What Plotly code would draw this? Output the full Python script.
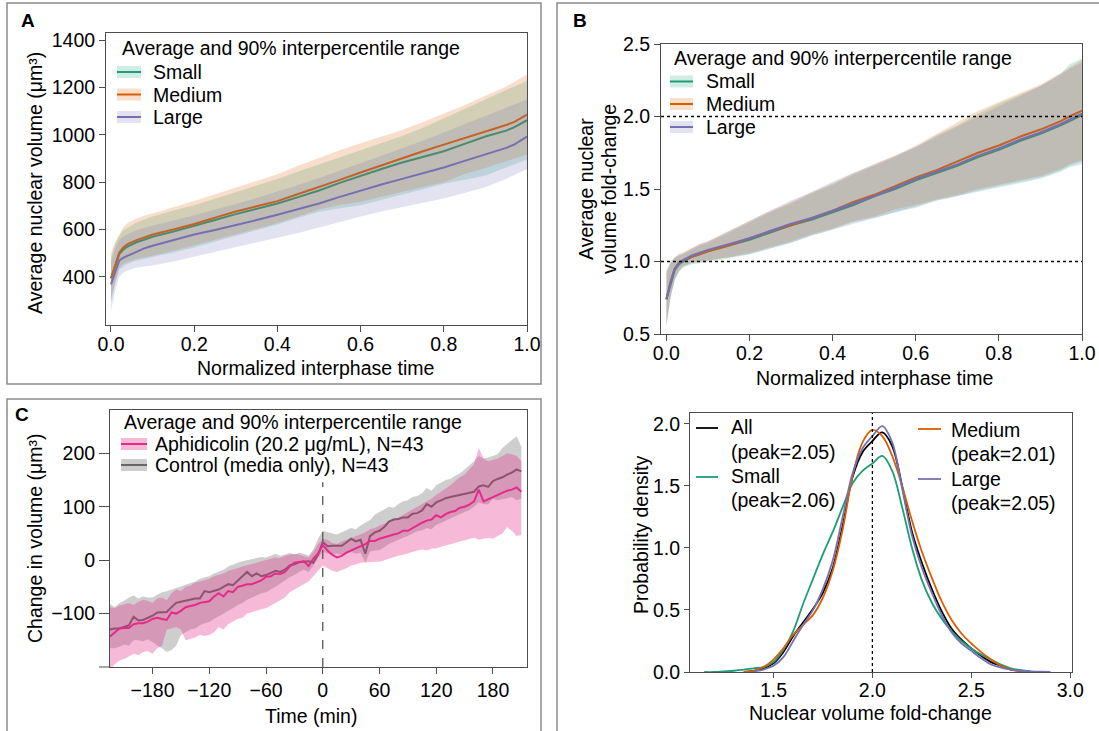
import plotly.graph_objects as go

W, H = 1099, 731
FONT = "Liberation Sans, Arial, sans-serif"
FS = 19.5
SP = "#4d4d4d"


def PX(x):
    return x / W


def PY(y):
    return 1 - y / H


C_SMALL = "#1b9e77"
C_MED = "#d95f02"
C_LARGE = "#7570b3"
C_APH = "#e7298a"
C_CTRL = "#666666"

# ---------------- Panel A / B data (normalized interphase time) ----------------
t_norm = [0.00, 0.01, 0.02, 0.03, 0.04, 0.06, 0.08, 0.10, 0.15, 0.20, 0.25, 0.30, 0.35, 0.40,
          0.45, 0.50, 0.55, 0.60, 0.65, 0.70, 0.75, 0.80, 0.85, 0.90, 0.95, 0.97, 1.00]

vol_small = [393, 445, 496, 516, 528, 545, 558, 569, 591, 614, 640, 665, 687, 710,
             737, 765, 797, 828, 856, 883, 907, 931, 962, 993, 1018, 1033, 1062]
vol_small_lo = [290, 370, 430, 445, 455, 468, 476, 483, 503, 524, 548, 572, 597, 621,
                650, 675, 690, 703, 725, 748, 770, 793, 810, 828, 860, 875, 896]
vol_small_hi = [483, 540, 575, 598, 607, 628, 642, 655, 680, 703, 730, 758, 785, 814,
                845, 875, 905, 938, 968, 995, 1030, 1069, 1110, 1150, 1190, 1205, 1228]

vol_medium = [393, 450, 503, 525, 538, 554, 567, 579, 600, 623, 650, 676, 698, 720,
              750, 779, 810, 841, 872, 903, 931, 959, 986, 1014, 1042, 1055, 1086]
vol_medium_lo = [310, 380, 440, 455, 462, 475, 482, 489, 510, 531, 555, 580, 603, 627,
                 655, 685, 705, 717, 740, 760, 780, 800, 835, 860, 890, 900, 917]
vol_medium_hi = [500, 545, 579, 610, 627, 645, 658, 669, 694, 720, 748, 779, 805, 834,
                 870, 903, 935, 965, 992, 1021, 1055, 1090, 1125, 1166, 1205, 1225, 1255]

vol_large = [368, 420, 469, 481, 489, 507, 520, 531, 555, 579, 598, 618, 640, 662,
             686, 710, 738, 765, 790, 814, 838, 862, 890, 917, 945, 960, 993]
vol_large_lo = [255, 340, 400, 418, 427, 438, 443, 448, 465, 483, 503, 524, 545, 565,
                585, 607, 632, 655, 676, 696, 713, 731, 755, 779, 815, 830, 855]
vol_large_hi = [462, 520, 555, 570, 580, 596, 607, 615, 638, 660, 683, 708, 733, 760,
                788, 818, 848, 880, 912, 943, 975, 1010, 1045, 1080, 1115, 1130, 1150]

fc_small = [0.74, 0.85, 0.94, 0.98, 1.00, 1.03, 1.05, 1.07, 1.11, 1.15, 1.20, 1.25, 1.29, 1.34,
            1.39, 1.45, 1.50, 1.56, 1.61, 1.66, 1.72, 1.77, 1.83, 1.88, 1.94, 1.97, 2.01]
fc_small_lo = [0.56, 0.75, 0.87, 0.93, 0.96, 0.98, 0.99, 1.00, 1.02, 1.05, 1.09, 1.13, 1.18, 1.22,
               1.27, 1.30, 1.34, 1.37, 1.42, 1.45, 1.48, 1.51, 1.54, 1.57, 1.62, 1.65, 1.67]
fc_small_hi = [0.93, 0.99, 1.02, 1.04, 1.05, 1.08, 1.11, 1.13, 1.20, 1.27, 1.34, 1.40, 1.47, 1.53,
               1.60, 1.66, 1.72, 1.79, 1.87, 1.94, 2.02, 2.09, 2.15, 2.21, 2.30, 2.36, 2.40]

fc_medium = [0.74, 0.86, 0.95, 0.99, 1.01, 1.03, 1.05, 1.07, 1.11, 1.16, 1.21, 1.25, 1.30, 1.35,
             1.41, 1.46, 1.52, 1.58, 1.63, 1.69, 1.75, 1.80, 1.86, 1.91, 1.97, 2.00, 2.04]
fc_medium_lo = [0.57, 0.76, 0.88, 0.94, 0.97, 0.99, 1.00, 1.01, 1.03, 1.06, 1.10, 1.14, 1.19, 1.23,
                1.28, 1.31, 1.36, 1.39, 1.43, 1.46, 1.50, 1.53, 1.56, 1.59, 1.64, 1.67, 1.70]
fc_medium_hi = [0.92, 0.99, 1.03, 1.05, 1.06, 1.09, 1.12, 1.14, 1.21, 1.28, 1.35, 1.41, 1.48, 1.54,
                1.61, 1.67, 1.73, 1.80, 1.88, 1.96, 2.04, 2.10, 2.16, 2.22, 2.30, 2.34, 2.39]

fc_large = [0.74, 0.86, 0.95, 0.99, 1.01, 1.04, 1.06, 1.08, 1.12, 1.16, 1.21, 1.26, 1.30, 1.35,
            1.40, 1.45, 1.51, 1.57, 1.62, 1.67, 1.73, 1.78, 1.84, 1.89, 1.95, 1.98, 2.02]
fc_large_lo = [0.55, 0.75, 0.87, 0.93, 0.96, 0.99, 1.00, 1.01, 1.03, 1.05, 1.09, 1.13, 1.18, 1.22,
               1.26, 1.30, 1.34, 1.38, 1.42, 1.45, 1.49, 1.52, 1.55, 1.58, 1.63, 1.66, 1.69]
fc_large_hi = [0.94, 1.00, 1.03, 1.05, 1.06, 1.09, 1.12, 1.14, 1.21, 1.28, 1.35, 1.42, 1.48, 1.55,
               1.61, 1.67, 1.73, 1.79, 1.86, 1.93, 2.00, 2.07, 2.14, 2.21, 2.29, 2.33, 2.37]

# ---------------- Panel C data (time relative to treatment, min) ----------------
time_min = list(range(-225, 215, 5))

ctrl_mean = [-130, -128, -128, -125, -122, -106, -113, -112, -108, -104,
             -98, -97, -97, -88, -80, -78, -76, -73, -72, -72,
             -58, -60, -58, -55, -50, -45, -47, -38, -30, -22,
             -30, -25, -30, -28, -24, -20, -22, -18, -10, -8,
             -4, -3, -2, -5, 10, 34, 26, 27, 27, 27,
             33, 40, 35, 38, 12, 45, 52, 55, 62, 72,
             76, 77, 80, 80, 87, 88, 93, 105, 100, 108,
             112, 116, 118, 120, 122, 124, 125, 128, 138, 140,
             137, 148, 152, 155, 160, 164, 170, 166]
ctrl_lo = [-165, -165, -162, -158, -160, -150, -150, -152, -148, -153,
           -160, -165, -172, -168, -160, -140, -135, -130, -128, -122,
           -118, -116, -110, -104, -100, -95, -90, -84, -80, -74,
           -70, -66, -62, -60, -55, -50, -45, -38, -32, -28,
           -22, -18, -22, -10, 5, 16, 12, 10, 12, 10,
           12, 15, 12, 14, -5, 16, 18, 19, 24, 30,
           35, 38, 42, 45, 50, 54, 56, 60, 58, 66,
           70, 74, 78, 82, 86, 90, 94, 100, 108, 105,
           104, 115, 112, 114, 116, 118, 112, 115]
ctrl_hi = [-82, -88, -80, -76, -70, -66, -72, -68, -70, -70,
           -65, -60, -58, -55, -52, -50, -46, -44, -40, -35,
           -32, -30, -25, -22, -18, -12, -8, -5, -2, 0,
           2, 4, 6, 5, 8, 12, 8, 10, 14, 10,
           14, 12, 8, 20, 40, 55, 52, 50, 48, 52,
           56, 60, 58, 65, 70, 75, 85, 90, 95, 100,
           98, 105, 110, 112, 118, 120, 125, 135, 130, 140,
           145, 150, 152, 158, 162, 170, 178, 185, 195, 190,
           192, 195, 198, 210, 218, 225, 232, 212]

aph_mean = [-143, -135, -128, -127, -127, -120, -118, -118, -115, -110,
            -108, -110, -112, -98, -100, -95, -88, -86, -84, -80,
            -78, -77, -68, -62, -68, -58, -60, -50, -48, -45,
            -45, -42, -38, -31, -30, -25, -26, -22, -12, -5,
            -3, -2, -11, 3, 12, 28, 18, 10, 5, 8,
            14, 18, 22, 26, 30, 36, 36, 40, 43, 45,
            48, 50, 55, 55, 60, 66, 70, 74, 76, 84,
            80, 86, 90, 92, 98, 100, 104, 110, 132, 110,
            114, 118, 122, 126, 130, 132, 136, 128]
aph_lo = [-205, -195, -188, -185, -180, -175, -178, -172, -170, -175,
          -165, -160, -130, -128, -125, -130, -150, -148, -145, -140,
          -142, -140, -135, -125, -130, -120, -115, -110, -108, -100,
          -98, -95, -92, -90, -85, -80, -75, -70, -60, -55,
          -50, -45, -40, -30, -20, -10, -15, -20, -22, -18,
          -15, -10, -8, -5, -5, -4, -3, -3, 0, 2,
          5, 8, 10, 12, 15, 18, 20, 18, 22, 22,
          25, 28, 30, 32, 35, 38, 40, 42, 38, 40,
          42, 40, 45, 50, 62, 55, 45, 47]
aph_hi = [-88, -90, -85, -82, -80, -84, -78, -74, -76, -80,
          -72, -70, -75, -62, -55, -58, -50, -48, -42, -40,
          -38, -35, -30, -28, -25, -20, -18, -15, -12, -10,
          -8, -5, -2, 0, 2, 5, 4, 8, 10, 12,
          10, 8, 5, 15, 30, 40, 38, 32, 30, 35,
          38, 42, 45, 48, 52, 58, 60, 65, 68, 72,
          75, 80, 85, 90, 95, 100, 105, 110, 115, 122,
          128, 135, 140, 148, 155, 160, 170, 180, 210, 190,
          185, 188, 190, 195, 200, 198, 195, 185]

# ---------------- Panel D data (KDE of fold-change) ----------------
fold_x = [1.15, 1.20, 1.25, 1.30, 1.35, 1.40, 1.45, 1.50, 1.55, 1.60, 1.65, 1.70, 1.75, 1.80,
          1.85, 1.90, 1.95, 2.00, 2.05, 2.10, 2.15, 2.20, 2.25, 2.30, 2.35, 2.40, 2.45, 2.50,
          2.55, 2.60, 2.65, 2.70, 2.75, 2.80, 2.85, 2.90]
dens_all = [None, None, None, None, 0.0, 0.01, 0.03, 0.07, 0.16, 0.29, 0.40, 0.51, 0.64, 0.84,
            1.18, 1.57, 1.77, 1.86, 1.93, 1.82, 1.50, 1.13, 0.88, 0.67, 0.49, 0.35, 0.26, 0.19,
            0.13, 0.08, 0.05, 0.02, 0.01, 0.0, None, None]
dens_small = [0.0, 0.0, 0.005, 0.01, 0.02, 0.03, 0.04, 0.08, 0.18, 0.33, 0.55, 0.75, 0.95, 1.13,
              1.33, 1.52, 1.62, 1.68, 1.74, 1.62, 1.33, 1.00, 0.74, 0.56, 0.43, 0.33, 0.25, 0.19,
              0.14, 0.10, 0.06, 0.03, 0.015, 0.005, None, None]
dens_medium = [None, None, None, None, 0.0, 0.01, 0.04, 0.10, 0.19, 0.30, 0.38, 0.46, 0.60, 0.82,
               1.15, 1.58, 1.85, 1.95, 1.90, 1.74, 1.50, 1.22, 0.97, 0.76, 0.57, 0.42, 0.31, 0.23,
               0.16, 0.10, 0.05, 0.02, 0.005, 0.0, None, None]
dens_large = [None, None, None, None, None, 0.005, 0.02, 0.05, 0.12, 0.25, 0.38, 0.50, 0.67, 0.90,
              1.25, 1.60, 1.80, 1.90, 1.98, 1.85, 1.48, 1.10, 0.84, 0.64, 0.46, 0.32, 0.23, 0.17,
              0.11, 0.06, 0.035, 0.02, 0.01, 0.005, 0.002, 0.0]

# ---------------- helpers ----------------


def rgba(hexc, a):
    h = hexc.lstrip('#')
    return "rgba(%d,%d,%d,%s)" % (int(h[0:2], 16), int(h[2:4], 16), int(h[4:6], 16), a)


fig = go.Figure()


def band(x, lo, hi, color, alpha, xa, ya):
    fig.add_trace(go.Scatter(x=list(x) + list(x)[::-1], y=list(hi) + list(lo)[::-1],
                             fill='toself', fillcolor=rgba(color, alpha), line=dict(width=0),
                             mode='lines', hoverinfo='skip', showlegend=False, xaxis=xa, yaxis=ya))


def line(x, y, color, width, xa, ya, shape='linear'):
    fig.add_trace(go.Scatter(x=x, y=y, mode='lines', line=dict(color=color, width=width, shape=shape),
                             connectgaps=False, showlegend=False, xaxis=xa, yaxis=ya))


# Panel A
for lo, hi, m, c in [(vol_small_lo, vol_small_hi, vol_small, C_SMALL),
                     (vol_medium_lo, vol_medium_hi, vol_medium, C_MED),
                     (vol_large_lo, vol_large_hi, vol_large, C_LARGE)]:
    band(t_norm, lo, hi, c, 0.2, 'x', 'y')
    line(t_norm, m, c, 2, 'x', 'y')

# Panel B
for lo, hi, m, c in [(fc_small_lo, fc_small_hi, fc_small, C_SMALL),
                     (fc_medium_lo, fc_medium_hi, fc_medium, C_MED),
                     (fc_large_lo, fc_large_hi, fc_large, C_LARGE)]:
    band(t_norm, lo, hi, c, 0.2, 'x2', 'y2')
    line(t_norm, m, c, 2, 'x2', 'y2')

# Panel C
band(time_min, ctrl_lo, ctrl_hi, C_CTRL, 0.32, 'x3', 'y3')
line(time_min, ctrl_mean, C_CTRL, 2, 'x3', 'y3')
band(time_min, aph_lo, aph_hi, C_APH, 0.33, 'x3', 'y3')
line(time_min, aph_mean, C_APH, 2, 'x3', 'y3')

# Panel D
line(fold_x, dens_all, "#000000", 1.8, 'x4', 'y4', 'spline')
line(fold_x, dens_small, C_SMALL, 1.8, 'x4', 'y4', 'spline')
line(fold_x, dens_medium, C_MED, 1.8, 'x4', 'y4', 'spline')
line(fold_x, dens_large, C_LARGE, 1.8, 'x4', 'y4', 'spline')


def axis(domain, rng, tickvals, fmt, ticklen, anchor, standoff=0):
    return dict(domain=domain, range=rng, tickvals=tickvals, tickformat=fmt, ticks='outside',
                ticklen=ticklen, tickwidth=1, tickcolor=SP, showline=True, linecolor=SP,
                linewidth=1, mirror=True, showgrid=False, zeroline=False, anchor=anchor,
                ticklabelstandoff=standoff, automargin=False,
                tickfont=dict(family=FONT, size=FS, color='black'))


fig.update_layout(
    width=W, height=H, autosize=False,
    margin=dict(l=0, r=0, t=0, b=0, pad=0, autoexpand=False),
    paper_bgcolor='white', plot_bgcolor='rgba(0,0,0,0)', showlegend=False,
    font=dict(family=FONT, size=FS, color='black'),
    xaxis=axis([PX(106), PX(527)], [-0.012, 1.0], [0, 0.2, 0.4, 0.6, 0.8, 1.0], '.1f', 6, 'y', -4),
    yaxis=axis([PY(325), PY(33)], [196, 1431], [400, 600, 800, 1000, 1200, 1400], 'd', 6, 'x'),
    xaxis2=axis([PX(661), PX(1082)], [-0.013, 1.0], [0, 0.2, 0.4, 0.6, 0.8, 1.0], '.1f', 6, 'y2', -4),
    yaxis2=axis([PY(334), PY(44)], [0.5, 2.5], [0.5, 1.0, 1.5, 2.0, 2.5], '.1f', 6, 'x2'),
    xaxis3=axis([PX(110), PX(527)], [-225, 216], [-180, -120, -60, 0, 60, 120, 180], 'd', 6, 'y3', 0),
    yaxis3=axis([PY(667), PY(410)], [-200, 281], [-100, 0, 100, 200], 'd', 10, 'x3'),
    xaxis4=axis([PX(690), PX(1072)], [1.078, 3.009], [1.5, 2.0, 2.5, 3.0], '.1f', 5, 'y4', -4),
    yaxis4=axis([PY(672), PY(413)], [0, 2.086], [0, 0.5, 1.0, 1.5, 2.0], '.1f', 5, 'x4'),
)

shapes = []
annots = []


def txt(x, y, s, size=FS, xanchor='left', angle=0, bold=False):
    annots.append(dict(x=PX(x), y=PY(y), xref='paper', yref='paper', text=("<b>%s</b>" % s) if bold else s,
                       showarrow=False, xanchor=xanchor, yanchor='middle', textangle=angle,
                       font=dict(family=FONT, size=size, color='black')))


# panel frames
for (x0, y0, x1, y1) in [(7, 3, 541, 384), (7, 399, 541, 745), (557, 3, 1110, 745)]:
    shapes.append(dict(type='rect', xref='paper', yref='paper', x0=PX(x0), y0=PY(y0), x1=PX(x1), y1=PY(y1),
                       line=dict(color='#8c8c8c', width=1.5), fillcolor='rgba(0,0,0,0)', layer='above'))

# panel labels
txt(28, 21, "A", 19, 'center', bold=True)
txt(580, 21, "B", 19, 'center', bold=True)
txt(22, 414, "C", 19, 'center', bold=True)

# axis titles
txt(35, 183, "Average nuclear volume (μm³)", FS, 'center', -90)
txt(315, 368, "Normalized interphase time", FS, 'center')
txt(586, 189, "Average nuclear", FS, 'center', -90)
txt(609, 189, "volume fold-change", FS, 'center', -90)
txt(874, 378, "Normalized interphase time", FS, 'center')
txt(35, 538, "Change in volume (μm³)", FS, 'center', -90)
txt(311, 716, "Time (min)", FS, 'center')
txt(641, 535, "Probability density", FS, 'center', -90)
txt(870, 713, "Nuclear volume fold-change", FS, 'center')


def band_legend(x0, x1, ytitle, items, xtext, xtitle, alpha):
    txt(xtitle, ytitle, "Average and 90% interpercentile range")
    for (y, label, color) in items:
        shapes.append(dict(type='rect', xref='paper', yref='paper', x0=PX(x0), x1=PX(x1),
                           y0=PY(y + 6), y1=PY(y - 6), line=dict(width=0), fillcolor=rgba(color, alpha)))
        shapes.append(dict(type='line', xref='paper', yref='paper', x0=PX(x0), x1=PX(x1),
                           y0=PY(y), y1=PY(y), line=dict(color=color, width=2)))
        txt(xtext, y, label)


band_legend(117, 141, 48, [(72, "Small", C_SMALL), (94.5, "Medium", C_MED), (117, "Large", C_LARGE)],
            151, 120, 0.2)
band_legend(670, 693, 58, [(81.5, "Small", C_SMALL), (104, "Medium", C_MED), (127, "Large", C_LARGE)],
            704, 672, 0.2)
band_legend(121, 147, 422, [(444, "Aphidicolin (20.2 μg/mL), N=43", C_APH),
                            (465, "Control (media only), N=43", C_CTRL)], 153, 122, 0.33)

# Panel D legend
for (lx0, lx1, ly, col) in [(696, 718, 428, "#000000"), (696, 718, 477, C_SMALL),
                            (918, 941, 429, C_MED), (918, 941, 479, C_LARGE)]:
    shapes.append(dict(type='line', xref='paper', yref='paper', x0=PX(lx0), x1=PX(lx1),
                       y0=PY(ly), y1=PY(ly), line=dict(color=col, width=1.8)))
txt(729, 427, "All")
txt(729, 452, "(peak=2.05)")
txt(729, 476, "Small")
txt(729, 500, "(peak=2.06)")
txt(949, 430, "Medium")
txt(949, 454, "(peak=2.01)")
txt(949, 479, "Large")
txt(949, 503, "(peak=2.05)")

# reference lines
for yv in [1.0, 2.0]:
    shapes.append(dict(type='line', xref='x2 domain', yref='y2', x0=0, x1=1, y0=yv, y1=yv,
                       line=dict(color='black', width=1.3, dash='dot')))
shapes.append(dict(type='line', xref='x4', yref='y4 domain', x0=2.0, x1=2.0, y0=0, y1=1,
                   line=dict(color='black', width=1.3, dash='dot')))
shapes.append(dict(type='line', xref='x3', yref='y3', x0=0, x1=0, y0=-200, y1=146,
                   line=dict(color='#555555', width=1.3, dash='dash')))
# small spine extension at bottom-left of panel C
shapes.append(dict(type='line', xref='paper', yref='paper', x0=PX(99), x1=PX(110), y0=PY(667), y1=PY(667),
                   line=dict(color=SP, width=1)))

fig.update_layout(shapes=shapes, annotations=annots)
fig.write_html("out.html")
